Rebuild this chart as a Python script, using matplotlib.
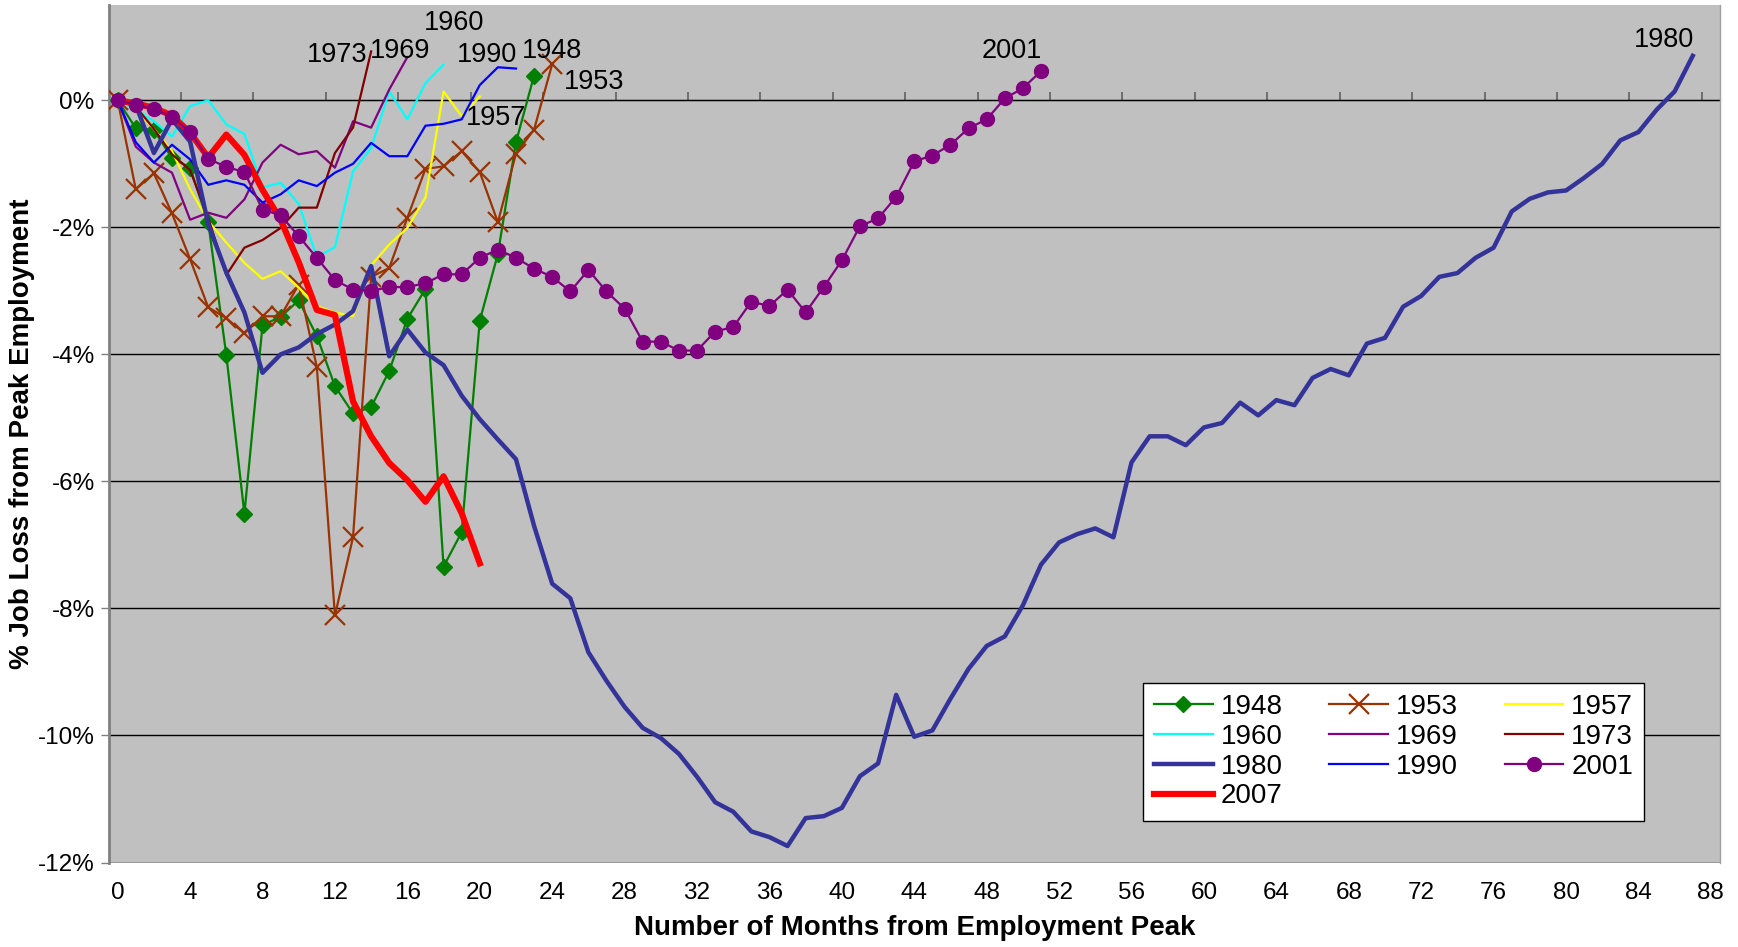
import numpy as np
import matplotlib.pyplot as plt

plt.rcParams['font.family'] = ['Liberation Sans', 'DejaVu Sans']

# % change in payroll employment, month by month after each peak
y1948 = [0, -0.44, -0.47, -0.91, -1.06, -1.92, -4.01, -6.51, -3.54, -3.41, -3.15, -3.71,
         -4.50, -4.93, -4.83, -4.26, -3.44, -2.97, -7.34, -6.80, -3.47, -2.42, -0.66, 0.39]
y1953 = [0, -1.40, -1.15, -1.78, -2.50, -3.26, -3.43, -3.67, -3.40, -3.40, -2.90, -4.20,
         -8.11, -6.88, -2.78, -2.64, -1.85, -1.08, -1.04, -0.80, -1.13, -1.92, -0.84, -0.46, 0.57]
y1957 = [0, -0.15, -0.45, -0.80, -1.40, -1.90, -2.24, -2.56, -2.81, -2.69, -2.95, -3.24,
         -3.34, -3.40, -2.60, -2.27, -2.01, -1.53, 0.14, -0.25, 0.06]
y1960 = [0, -0.15, -0.33, -0.57, -0.09, 0.0, -0.38, -0.53, -1.37, -1.30, -1.63, -2.47,
         -2.31, -1.12, -0.75, 0.14, -0.30, 0.27, 0.56]
y1969 = [0, -0.73, -0.98, -1.14, -1.88, -1.77, -1.85, -1.56, -0.98, -0.70, -0.85, -0.80,
         -1.06, -0.33, -0.43, 0.17, 0.68]
y1973 = [0, -0.10, -0.45, -0.85, -1.10, -1.85, -2.75, -2.32, -2.20, -2.01, -1.69, -1.69,
         -0.83, -0.43, 0.77]
y1980 = [0, -0.07, -0.83, -0.30, -0.65, -1.95, -2.71, -3.34, -4.29, -4.00, -3.89, -3.68,
         -3.53, -3.32, -2.61, -4.03, -3.61, -3.97, -4.17, -4.65, -5.02, -5.34, -5.65, -6.70,
         -7.61, -7.84, -8.69, -9.14, -9.55, -9.88, -10.04, -10.29, -10.65, -11.05, -11.20, -11.51,
         -11.60, -11.74, -11.30, -11.27, -11.14, -10.64, -10.44, -9.36, -10.02, -9.92, -9.42, -8.95,
         -8.59, -8.44, -7.95, -7.31, -6.96, -6.83, -6.74, -6.88, -5.70, -5.29, -5.29, -5.43,
         -5.15, -5.08, -4.76, -4.96, -4.72, -4.80, -4.37, -4.23, -4.33, -3.83, -3.74, -3.25,
         -3.08, -2.78, -2.72, -2.48, -2.32, -1.75, -1.55, -1.45, -1.42, -1.22, -1.00, -0.63,
         -0.50, -0.15, 0.14, 0.70]
y1990 = [0, -0.66, -0.98, -0.70, -0.93, -1.33, -1.26, -1.33, -1.61, -1.48, -1.26, -1.35,
         -1.14, -1.00, -0.67, -0.88, -0.88, -0.40, -0.37, -0.30, 0.24, 0.52, 0.50]
y2001 = [0, -0.07, -0.14, -0.26, -0.50, -0.92, -1.05, -1.13, -1.72, -1.81, -2.14, -2.48,
         -2.83, -2.98, -3.00, -2.94, -2.94, -2.88, -2.74, -2.74, -2.48, -2.35, -2.48, -2.65,
         -2.78, -3.01, -2.67, -3.01, -3.28, -3.80, -3.80, -3.94, -3.94, -3.64, -3.57, -3.17,
         -3.24, -2.98, -3.34, -2.94, -2.52, -1.98, -1.86, -1.52, -0.96, -0.87, -0.70, -0.44,
         -0.30, 0.03, 0.19, 0.46]
y2007 = [0, -0.05, -0.12, -0.24, -0.51, -0.90, -0.54, -0.86, -1.41, -1.88, -2.55, -3.30,
         -3.38, -4.74, -5.29, -5.71, -5.98, -6.32, -5.92, -6.50, -7.29]

xticks = list(range(0, 89, 4))
yticks = [0, -2, -4, -6, -8, -10, -12]

fig = plt.figure(figsize=(17.38, 9.47), dpi=100)
ax = fig.add_axes([0.0625, 0.0892, 0.9271, 0.9055])
ax.set_facecolor('#C0C0C0')

def draw(y, **kw):
    return ax.plot(np.arange(len(y)), y, **kw)[0]

h = {}
h['1948'] = draw(y1948, color='#008000', lw=1.6, marker='D', ms=8, zorder=3)
h['1953'] = draw(y1953, color='#993300', lw=1.6, marker='x', ms=15, mew=1.6, zorder=3)
h['1957'] = draw(y1957, color='#FFFF00', lw=1.6, zorder=3)
h['1960'] = draw(y1960, color='#00FFFF', lw=1.6, zorder=3)
h['1969'] = draw(y1969, color='#800080', lw=1.6, zorder=3)
h['1973'] = draw(y1973, color='#800000', lw=1.6, zorder=3)
h['1980'] = draw(y1980, color='#333399', lw=3.2, zorder=4)
h['1990'] = draw(y1990, color='#0000FF', lw=1.6, zorder=3)
h['2007'] = draw(y2007, color='#FF0000', lw=4.5, zorder=5)
h['2001'] = draw(y2001, color='#800080', lw=1.6, marker='o', ms=10, zorder=6)

# end-of-line labels
fs = 19.5
labels = {'1973': (12.1, 0.72), '1969': (15.6, 0.77), '1960': (18.6, 1.22),
          '1990': (20.4, 0.72), '1948': (24.0, 0.77), '1957': (20.9, -0.28),
          '1953': (26.3, 0.29), '2001': (49.4, 0.78), '1980': (85.4, 0.95)}
for txt, (lx, ly) in labels.items():
    ax.text(lx, ly, txt, fontsize=fs, ha='center', va='center', zorder=7)

ax.set_xlim(-0.5, 88.5)
ax.set_ylim(-12, 1.5)
ax.set_xticks(xticks)
ax.set_xticklabels([str(t) for t in xticks], fontsize=17.5)
ax.tick_params(axis='x', length=0, pad=14)
ax.set_yticks(yticks)
ax.set_yticklabels([f'{t}%' for t in yticks], fontsize=17.5)
ax.tick_params(axis='y', length=6, width=1, color='#808080', direction='out', pad=4)
ax.grid(axis='y', color='black', lw=1)
ax.set_axisbelow(True)

for s in ['top', 'bottom']:
    ax.spines[s].set_visible(False)
ax.spines['left'].set_color('#808080')
ax.spines['left'].set_linewidth(2)
ax.spines['right'].set_color('#A0A0A0')
ax.spines['right'].set_linewidth(1)

# category axis crossing at 0% with tick marks between categories
y0 = (0 - ax.get_ylim()[0]) / (ax.get_ylim()[1] - ax.get_ylim()[0])
sec = ax.secondary_xaxis(y0)
sec.set_xticks(np.arange(3.5, 88.6, 4))
sec.set_xticklabels([])
sec.tick_params(length=6, width=1.2, color='#606060', direction='out')
sec.spines['bottom'].set_color('#606060')
sec.spines['bottom'].set_linewidth(1.5)

ax.set_xlabel('Number of Months from Employment Peak', fontsize=20, fontweight='bold', labelpad=8)
ax.set_ylabel('% Job Loss from Peak Employment', fontsize=20, fontweight='bold', labelpad=2)

order = ['1948', '1960', '1980', '2007', '1953', '1969', '1990', '1957', '1973', '2001']
leg = ax.legend([h[k] for k in order], order, ncol=3, fontsize=20,
                loc='lower left', bbox_to_anchor=(0.642, 0.049, 0.311, 0.158), mode='expand',
                borderaxespad=0, frameon=True, fancybox=False, edgecolor='black', framealpha=1,
                handlelength=2.1, handletextpad=0.3, labelspacing=0.14, borderpad=0.4,
                columnspacing=1.0)
leg.get_frame().set_linewidth(1)
leg.set_zorder(10)

fig.savefig('out.png', dpi=100)
